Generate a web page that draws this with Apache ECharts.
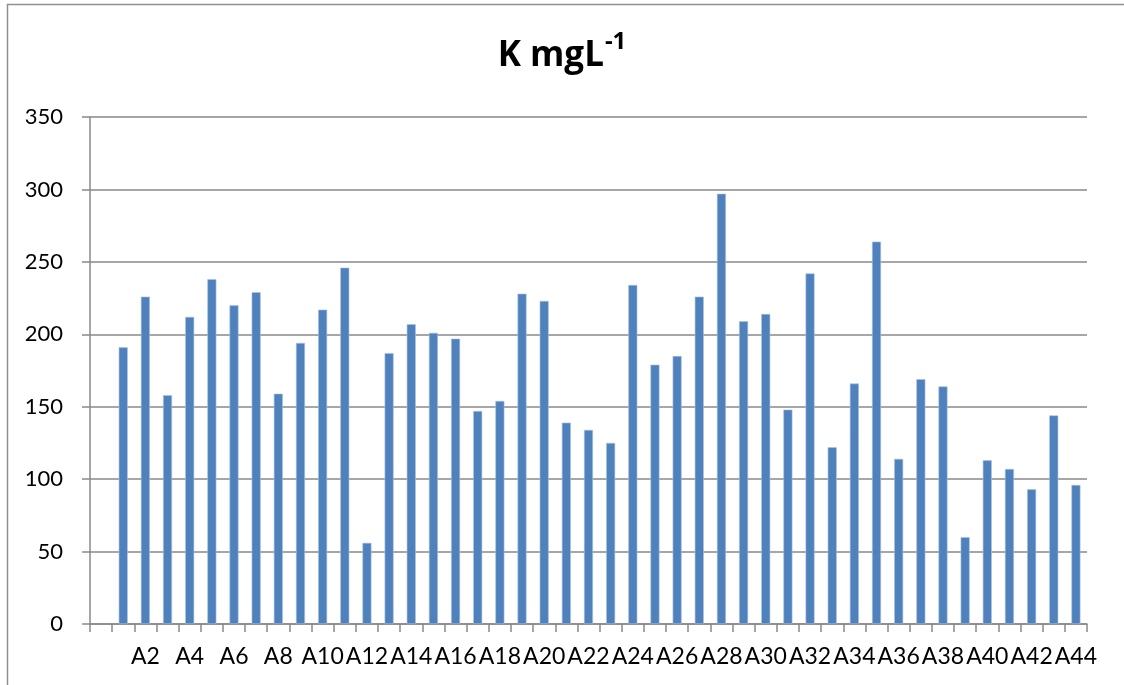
<!DOCTYPE html>
<html>
<head>
<meta charset="utf-8">
<title>K mgL-1</title>
<script src="https://cdn.jsdelivr.net/npm/echarts@6/dist/echarts.min.js"></script>
<style>
  html, body { margin: 0; padding: 0; background: #ffffff; }
  #chart { width: 1124px; height: 685px; }
</style>
</head>
<body>
<div id="chart"></div>
<script>
// Sample names; the first slot on the axis is left empty.
const categories = ['', 'A1', 'A2', 'A3', 'A4', 'A5', 'A6', 'A7', 'A8', 'A9', 'A10',
  'A11', 'A12', 'A13', 'A14', 'A15', 'A16', 'A17', 'A18', 'A19', 'A20',
  'A21', 'A22', 'A23', 'A24', 'A25', 'A26', 'A27', 'A28', 'A29', 'A30',
  'A31', 'A32', 'A33', 'A34', 'A35', 'A36', 'A37', 'A38', 'A39', 'A40',
  'A41', 'A42', 'A43', 'A44'];

// Potassium concentration (mg/L) per sample
const kValues = [null, 191, 226, 158, 212, 238, 220, 229, 159, 194, 217,
  246, 56, 187, 207, 201, 197, 147, 154, 228, 223,
  139, 134, 125, 234, 179, 185, 226, 297, 209, 214,
  148, 242, 122, 166, 264, 114, 169, 164, 60, 113,
  107, 93, 144, 96];

const yTicks = { min: 0, max: 350, step: 50 };

const FONT = 'Lato, "Open Sans", sans-serif';
const TITLE_FONT = '"Open Sans", Lato, sans-serif';
const GRAY = '#898989';

const chart = echarts.init(document.getElementById('chart'), null, { renderer: 'canvas' });

chart.setOption({
  animation: false,
  backgroundColor: '#ffffff',
  title: {
    text: '{main|K mgL}{sup|-1}',
    left: 'center',
    top: 25,
    textStyle: {
      rich: {
        main: { fontFamily: TITLE_FONT, fontWeight: 'bold', fontSize: 35, color: '#000', lineHeight: 44, verticalAlign: 'bottom' },
        sup: { fontFamily: TITLE_FONT, fontWeight: 'bold', fontSize: 24, color: '#000', lineHeight: 44, verticalAlign: 'top', padding: [0, 0, 0, 1] }
      }
    }
  },
  graphic: [{
    type: 'rect',
    shape: { x: 7.5, y: 4.5, width: 1140, height: 700 },
    style: { fill: null, stroke: '#8f8f8f', lineWidth: 1.5 },
    silent: true
  }],
  grid: { left: 90, right: 37, top: 117, bottom: 61, containLabel: false },
  xAxis: {
    type: 'category',
    data: categories,
    boundaryGap: true,
    axisLine: { show: true, lineStyle: { color: GRAY, width: 1.5 } },
    axisTick: { show: true, interval: 0, length: 8, lineStyle: { color: GRAY, width: 1.5 } },
    axisLabel: { interval: 1, margin: 21, fontFamily: FONT, fontSize: 23, color: '#000' },
    splitLine: { show: false }
  },
  yAxis: {
    type: 'value',
    min: yTicks.min,
    max: yTicks.max,
    interval: yTicks.step,
    axisLine: { show: true, lineStyle: { color: GRAY, width: 1.5 } },
    axisTick: { show: true, length: 8, lineStyle: { color: GRAY, width: 1.5 } },
    axisLabel: { margin: 27, fontFamily: FONT, fontSize: 22, color: '#000' },
    splitLine: { show: true, lineStyle: { color: GRAY, width: 1.5 } }
  },
  series: [{
    name: 'K mgL-1',
    type: 'bar',
    data: kValues,
    barWidth: 9,
    itemStyle: { color: '#4f81bd', borderColor: '#a9c1e0', borderWidth: 0.6 }
  }]
});
</script>
</body>
</html>
